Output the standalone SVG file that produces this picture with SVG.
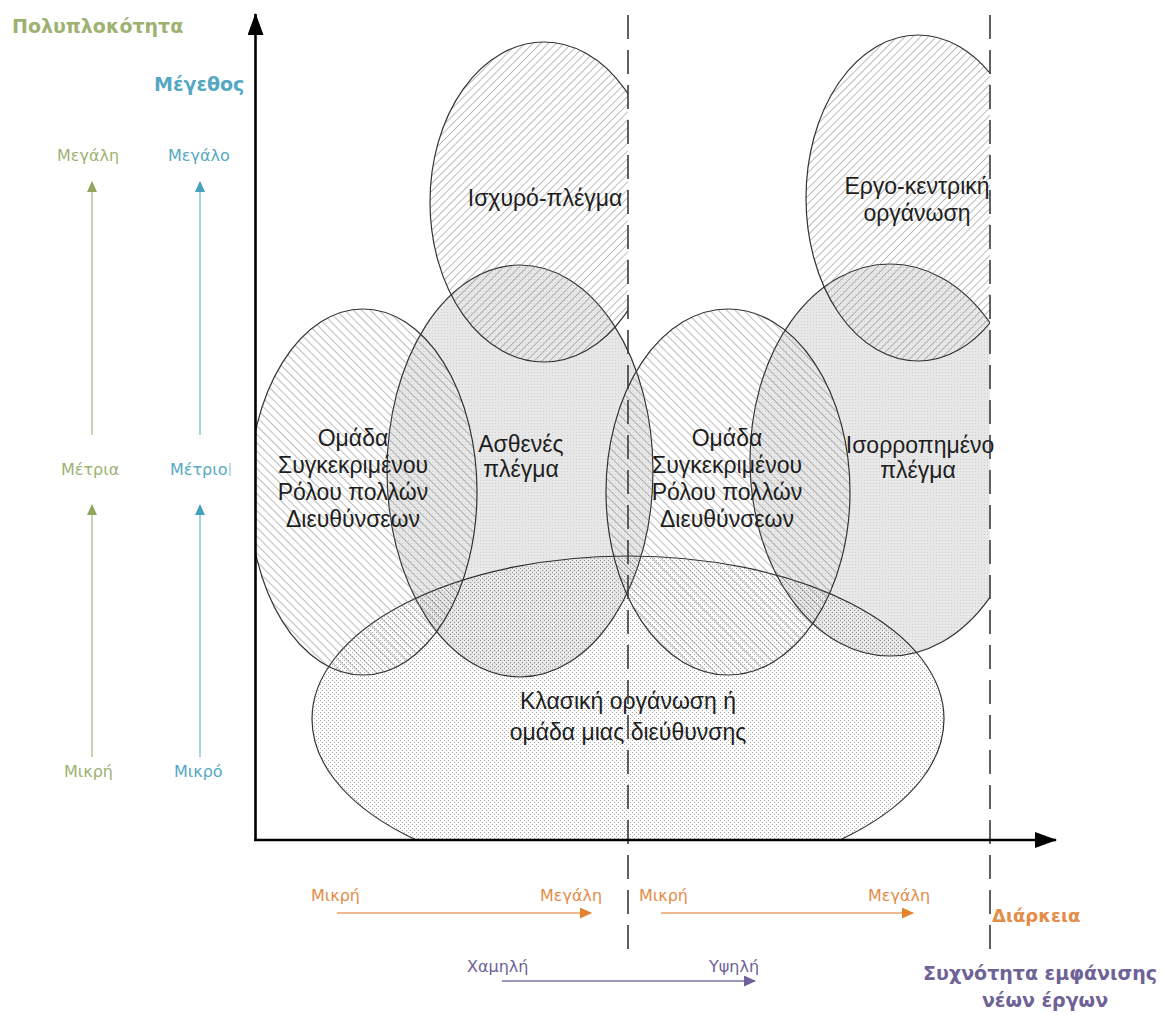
<svg xmlns="http://www.w3.org/2000/svg" width="1163" height="1015" viewBox="0 0 1163 1015">
  <style>
    .shape { stroke: #333; stroke-width: 1.2; }
    .lbl { font-family: "Liberation Sans", Arial, sans-serif; font-size: 23px; fill: #1e1e1e; text-anchor: middle; }
    .axis { stroke: #000; stroke-width: 2.6; fill: none; }
    .divider { stroke: #3a3a3a; stroke-width: 1.6; stroke-dasharray: 24 11; fill: none; }
    .scale { font-family: "DejaVu Sans", Verdana, sans-serif; font-size: 16px; }
    .title { font-family: "DejaVu Sans", Verdana, sans-serif; font-size: 19px; font-weight: bold; }
    .green { fill: #9db271; }
    .blue { fill: #55a8c2; }
    .orange { fill: #e48c48; }
    .purple { fill: #6e6297; }
  </style>
  <defs>
    <!-- fills: transparent hatches and tints so overlaps build up -->
    <pattern id="hatchUp" width="5.5" height="5.5" patternUnits="userSpaceOnUse" patternTransform="rotate(45)">
      <line x1="0" y1="0" x2="0" y2="5.5" stroke="#7a7a7a" stroke-width="1"/>
    </pattern>
    <pattern id="hatchDown" width="6" height="6" patternUnits="userSpaceOnUse" patternTransform="rotate(-45)">
      <line x1="0" y1="0" x2="0" y2="6" stroke="#7a7a7a" stroke-width="1"/>
    </pattern>
    <pattern id="greyDots" width="3" height="3" patternUnits="userSpaceOnUse">
      <rect width="3" height="3" fill="#000" fill-opacity="0.09"/>
      <rect width="1" height="1" fill="#000" fill-opacity="0.1"/>
    </pattern>
    <pattern id="lightDots" width="4" height="4" patternUnits="userSpaceOnUse">
      <rect width="1" height="1" fill="#000" fill-opacity="0.35"/>
      <rect x="2" y="2" width="1" height="1" fill="#000" fill-opacity="0.35"/>
    </pattern>

    <clipPath id="rightOfAxis"><rect x="255" y="0" width="908" height="1015"/></clipPath>
    <clipPath id="leftOfMid"><rect x="0" y="0" width="628" height="1015"/></clipPath>
    <clipPath id="leftOfEdge"><rect x="0" y="0" width="990" height="1015"/></clipPath>
    <clipPath id="aboveAxis"><rect x="0" y="0" width="1163" height="840"/></clipPath>

    <marker id="axisHead" markerUnits="userSpaceOnUse" markerWidth="22" markerHeight="16" refX="21" refY="8" orient="auto">
      <path d="M0,0 L22,8 L0,16 z" fill="#000"/>
    </marker>
    <marker id="headGreen" markerUnits="userSpaceOnUse" markerWidth="11" markerHeight="10" refX="10" refY="5" orient="auto">
      <path d="M0,0 L11,5 L0,10 z" fill="#8fa65c"/>
    </marker>
    <marker id="headBlue" markerUnits="userSpaceOnUse" markerWidth="11" markerHeight="10" refX="10" refY="5" orient="auto">
      <path d="M0,0 L11,5 L0,10 z" fill="#45a0bc"/>
    </marker>
    <marker id="headOrange" markerUnits="userSpaceOnUse" markerWidth="12" markerHeight="11" refX="11" refY="5.5" orient="auto">
      <path d="M0,0 L12,5.5 L0,11 z" fill="#e5822f"/>
    </marker>
    <marker id="headPurple" markerUnits="userSpaceOnUse" markerWidth="12" markerHeight="11" refX="11" refY="5.5" orient="auto">
      <path d="M0,0 L12,5.5 L0,11 z" fill="#6f5f9a"/>
    </marker>
  </defs>

  <rect width="1163" height="1015" fill="#fff"/>

  <!-- organisation types -->
  <g id="classic">
    <g clip-path="url(#aboveAxis)">
      <ellipse cx="628" cy="719" rx="316" ry="163" fill="url(#lightDots)" class="shape"/>
    </g>
    <text class="lbl" x="628" y="709">Κλασική οργάνωση ή</text>
    <text class="lbl" x="628" y="740">ομάδα μιας διεύθυνσης</text>
  </g>

  <g id="weak-matrix">
    <ellipse cx="520" cy="471" rx="133" ry="206" fill="url(#greyDots)" class="shape"/>
    <text class="lbl" x="521" y="452">Ασθενές</text>
    <text class="lbl" x="521" y="477">πλέγμα</text>
  </g>

  <g id="balanced-matrix">
    <g clip-path="url(#leftOfEdge)">
      <ellipse cx="890" cy="460" rx="140" ry="196" fill="url(#greyDots)" class="shape"/>
    </g>
    <text class="lbl" x="920" y="453">Ισορροπημένο</text>
    <text class="lbl" x="918" y="478">πλέγμα</text>
  </g>

  <g id="strong-matrix">
    <g clip-path="url(#leftOfMid)">
      <ellipse cx="544" cy="202" rx="114" ry="160" fill="url(#hatchUp)" class="shape"/>
    </g>
    <text class="lbl" x="545" y="206">Ισχυρό-πλέγμα</text>
  </g>

  <g id="projectized">
    <g clip-path="url(#leftOfEdge)">
      <ellipse cx="918" cy="198" rx="112" ry="163" fill="url(#hatchUp)" class="shape"/>
    </g>
    <text class="lbl" x="917" y="194">Εργο-κεντρική</text>
    <text class="lbl" x="917" y="221">οργάνωση</text>
  </g>

  <g id="role-team-left">
    <g clip-path="url(#rightOfAxis)">
      <ellipse cx="363" cy="492" rx="114" ry="183" fill="url(#hatchDown)" class="shape"/>
    </g>
    <text class="lbl" x="353" y="446">Ομάδα</text>
    <text class="lbl" x="353" y="473">Συγκεκριμένου</text>
    <text class="lbl" x="353" y="500">Ρόλου πολλών</text>
    <text class="lbl" x="353" y="527">Διευθύνσεων</text>
  </g>

  <g id="role-team-right">
    <ellipse cx="728" cy="492" rx="122" ry="183" fill="url(#hatchDown)" class="shape"/>
    <text class="lbl" x="727" y="446">Ομάδα</text>
    <text class="lbl" x="727" y="473">Συγκεκριμένου</text>
    <text class="lbl" x="727" y="500">Ρόλου πολλών</text>
    <text class="lbl" x="727" y="527">Διευθύνσεων</text>
  </g>

  <!-- axes, dividers and scale arrows -->
  <g id="connectors">
    <line class="divider" x1="628" y1="15" x2="628" y2="952"/>
    <line class="divider" x1="990" y1="15" x2="990" y2="952"/>

    <line class="axis" x1="255.5" y1="841" x2="255.5" y2="14" marker-end="url(#axisHead)"/>
    <line class="axis" x1="254" y1="840" x2="1056" y2="840" marker-end="url(#axisHead)"/>

    <line x1="92" y1="435" x2="92" y2="182" stroke="#b3c38c" stroke-width="1.4" marker-end="url(#headGreen)"/>
    <line x1="92" y1="757" x2="92" y2="505" stroke="#b3c38c" stroke-width="1.4" marker-end="url(#headGreen)"/>
    <line x1="200" y1="435" x2="200" y2="182" stroke="#86c0d3" stroke-width="1.4" marker-end="url(#headBlue)"/>
    <line x1="200" y1="757" x2="200" y2="505" stroke="#86c0d3" stroke-width="1.4" marker-end="url(#headBlue)"/>

    <line x1="337" y1="913" x2="591" y2="913" stroke="#eba36a" stroke-width="1.6" marker-end="url(#headOrange)"/>
    <line x1="661" y1="913" x2="913" y2="913" stroke="#eba36a" stroke-width="1.6" marker-end="url(#headOrange)"/>
    <line x1="502" y1="981" x2="755" y2="981" stroke="#7e73a3" stroke-width="1.6" marker-end="url(#headPurple)"/>
  </g>

  <!-- axis titles and scale labels -->
  <g id="labels">
    <text class="title green" x="12" y="33">Πολυπλοκότητα</text>
    <text class="title blue" x="154" y="91">Μέγεθος</text>

    <text class="scale green" x="57" y="161">Μεγάλη</text>
    <text class="scale blue" x="168" y="161">Μεγάλο</text>
    <text class="scale green" x="61" y="475">Μέτρια</text>
    <text class="scale blue" x="170" y="475">Μέτριο</text>
    <line x1="230" y1="463" x2="230" y2="476" stroke="#7fb6c8" stroke-width="1"/>
    <text class="scale green" x="64" y="777">Μικρή</text>
    <text class="scale blue" x="174" y="777">Μικρό</text>

    <text class="scale orange" x="311" y="901">Μικρή</text>
    <text class="scale orange" x="540" y="901">Μεγάλη</text>
    <text class="scale orange" x="639" y="901">Μικρή</text>
    <text class="scale orange" x="868" y="901">Μεγάλη</text>
    <text class="title orange" x="992" y="922" style="font-size:18px">Διάρκεια</text>

    <text class="scale purple" x="467" y="972">Χαμηλή</text>
    <text class="scale purple" x="709" y="972">Υψηλή</text>
    <text class="title purple" x="1157" y="980" text-anchor="end">Συχνότητα εμφάνισης</text>
    <text class="title purple" x="1045" y="1007" text-anchor="middle">νέων έργων</text>
  </g>
</svg>
